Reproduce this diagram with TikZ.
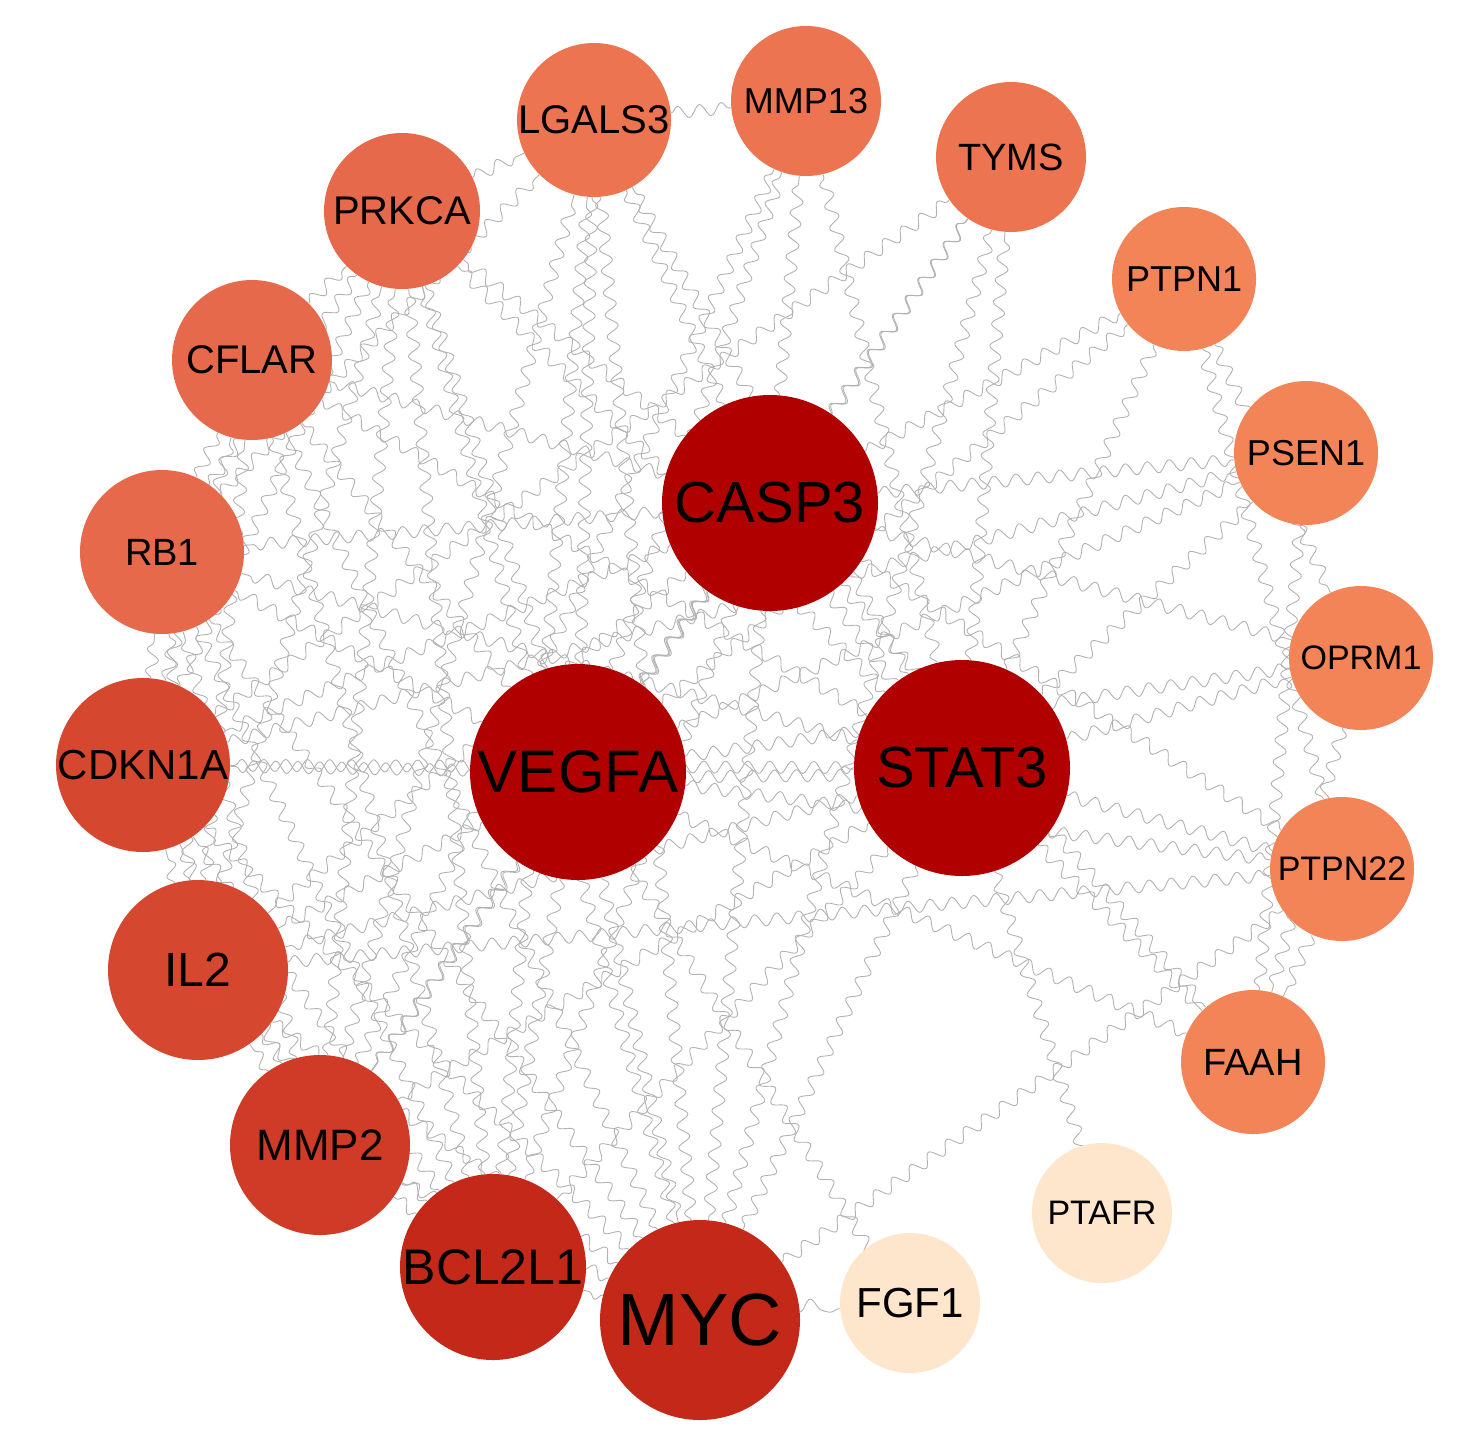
\documentclass[tikz,border=0pt]{standalone}
\usepackage{fontspec}
\setmainfont{Liberation Sans}
\usetikzlibrary{decorations.pathmorphing}
\pgfdeclarelayer{bg}\pgfsetlayers{bg,main}
\definecolor{hub}{HTML}{B00000}
\definecolor{cA}{HTML}{C42818}
\definecolor{cB}{HTML}{CF3B26}
\definecolor{cC}{HTML}{D6472F}
\definecolor{cD}{HTML}{E5694A}
\definecolor{cE}{HTML}{EC7450}
\definecolor{cF}{HTML}{F28457}
\definecolor{cG}{HTML}{FDE6CB}
\begin{document}
\begin{tikzpicture}[x=0.5pt,y=-0.5pt,
 gnode/.style={circle,inner sep=0pt,text=black},
 wedge/.style={draw=gray!60,line width=0.45pt,decorate,decoration={snake,segment length=11pt,amplitude=3pt}}]
\useasboundingbox (0,0) rectangle (1460,1452);
\newcommand{\gn}[6]{\node[gnode,fill=#5,minimum size=#4pt,font=\fontsize{#6}{#6}\selectfont] (#1) at (#2,#3) {#1};}
\gn{CASP3}{770}{503}{108}{hub}{29}
\gn{VEGFA}{578}{772}{108}{hub}{30}
\gn{STAT3}{962}{768}{108}{hub}{29}
\gn{MYC}{700}{1320}{100}{cA}{37}
\gn{BCL2L1}{493}{1267}{93}{cA}{25}
\gn{MMP2}{320}{1145}{90}{cB}{22}
\gn{IL2}{198}{970}{90}{cC}{24}
\gn{CDKN1A}{143}{765}{87}{cC}{21}
\gn{RB1}{162}{552}{82}{cD}{19}
\gn{CFLAR}{252}{360}{80}{cD}{20}
\gn{PRKCA}{402}{211}{78}{cD}{20}
\gn{LGALS3}{594}{120}{77}{cE}{20}
\gn{MMP13}{806}{101}{75}{cE}{18}
\gn{TYMS}{1011}{157}{75}{cE}{19}
\gn{PTPN1}{1184}{279}{72}{cF}{18}
\gn{PSEN1}{1306}{453}{72}{cF}{18}
\gn{OPRM1}{1361}{658}{72}{cF}{17}
\gn{PTPN22}{1342}{869}{72}{cF}{17}
\gn{FAAH}{1253}{1062}{72}{cF}{19}
\gn{PTAFR}{1102}{1213}{70}{cG}{17}
\gn{FGF1}{910}{1303}{70}{cG}{21}
\begin{pgfonlayer}{bg}
\foreach \h in {CASP3,VEGFA,STAT3}{
 \foreach \o in {MYC,BCL2L1,MMP2,IL2,CDKN1A,RB1,CFLAR,PRKCA,LGALS3,MMP13,TYMS,PTPN1,PSEN1,OPRM1,PTPN22,FAAH}
  \draw[wedge] (\h) -- (\o);}
\draw[wedge] (CASP3)--(VEGFA) (CASP3)--(STAT3) (VEGFA)--(STAT3);
\draw[wedge] (STAT3)--(PTAFR) (VEGFA)--(FGF1) (MYC)--(FGF1);
\foreach \a/\b in {MYC/BCL2L1,MYC/MMP2,MYC/IL2,MYC/CDKN1A,MYC/RB1,MYC/CFLAR,MYC/PRKCA,MYC/LGALS3,MYC/TYMS,MYC/PTPN22,
 BCL2L1/MMP2,BCL2L1/IL2,BCL2L1/CDKN1A,BCL2L1/RB1,BCL2L1/CFLAR,BCL2L1/PRKCA,BCL2L1/LGALS3,
 MMP2/IL2,MMP2/CDKN1A,MMP2/RB1,MMP2/LGALS3,MMP2/MMP13,MMP2/PRKCA,
 IL2/CDKN1A,IL2/RB1,IL2/CFLAR,IL2/PTPN22,IL2/PRKCA,
 CDKN1A/RB1,CDKN1A/CFLAR,CDKN1A/PRKCA,CDKN1A/TYMS,CDKN1A/PSEN1,
 RB1/CFLAR,RB1/PRKCA,RB1/LGALS3,CFLAR/PRKCA,PRKCA/LGALS3,LGALS3/MMP13,
 PTPN1/OPRM1,PSEN1/FAAH,OPRM1/FAAH,PTPN22/FAAH,PTPN1/PTPN22}
 \draw[wedge] (\a) -- (\b);
\end{pgfonlayer}
\end{tikzpicture}
\end{document}
